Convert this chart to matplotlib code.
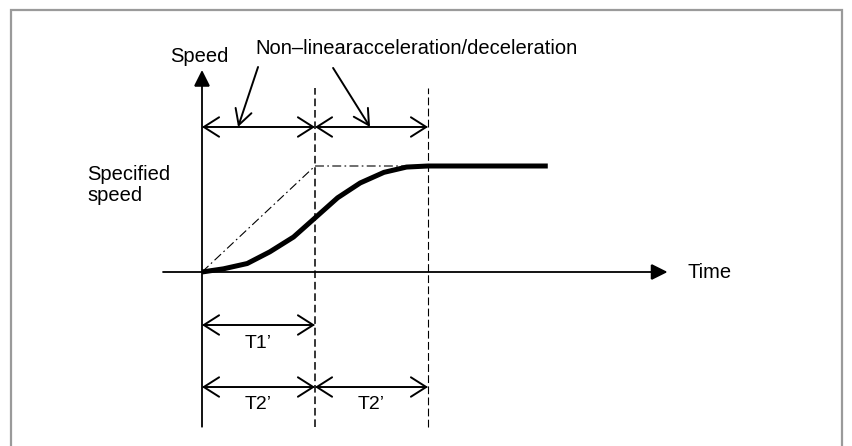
import matplotlib.pyplot as plt
from matplotlib.patches import FancyArrowPatch, Rectangle

plt.rcParams["font.family"] = ["Liberation Sans", "DejaVu Sans"]

# time in units of T2', speed in units of the specified speed
T1 = 1.0
T2 = 1.0
curve_t = [0.0, 0.19, 0.40, 0.60, 0.81, 1.0, 1.20, 1.40, 1.61, 1.81, 2.0, 3.06]
curve_v = [0.0, 0.03, 0.08, 0.19, 0.33, 0.51, 0.70, 0.84, 0.94, 0.99, 1.0, 1.0]
linear_t = [0.0, T1, 2 * T2]
linear_v = [0.0, 1.0, 1.0]

title = "Non\u2013linearacceleration/deceleration"
y_label = "Speed"
x_label = "Time"
spec_label = "Specified\nspeed"
t1_label = "T1\u2019"
t2_label = "T2\u2019"

W, H = 853, 446
fig = plt.figure(figsize=(W / 100, H / 100), dpi=100)
ax = fig.add_axes([0, 0, 1, 1])
ax.set_xlim(-202 / 113, (W - 202) / 113)
ax.set_ylim(-(H - 272) / 106, 272 / 106)
ax.axis("off")

# grey frame
fig.patches.append(Rectangle((11 / W, -0.05), (842 - 11) / W, 1.05 - 10 / H,
                             transform=fig.transFigure, fill=False,
                             edgecolor="#9a9a9a", linewidth=1.6))


def arrow(p0, p1, style, lw=1.4, ms=20):
    ax.add_patch(FancyArrowPatch(p0, p1, arrowstyle=style, mutation_scale=ms,
                                 color="black", linewidth=lw,
                                 shrinkA=0, shrinkB=0, joinstyle="miter"))


# axes
solid = "-|>,head_length=0.5,head_width=0.25"
arrow((0, -1.46), (0, 1.906), solid, lw=1.3)
arrow((-0.345, 0), (4.12, 0), solid, lw=1.3)

# dashed guides
ax.plot([T1, T1], [-1.46, 1.736], color="black", lw=1.1, dashes=(5, 2.5))
ax.plot([2 * T2, 2 * T2], [-1.46, 1.736], color="black", lw=0.8, dashes=(7, 3))

# speed curves
ax.plot(linear_t, linear_v, color="black", lw=0.8, dashes=(8, 3, 1.5, 3))
ax.plot(curve_t, curve_v, color="black", lw=3.6, solid_capstyle="butt")

# dimension arrows
dim = "<->,head_length=0.55,head_width=0.35"
arrow((0, 1.368), (T2, 1.368), dim)
arrow((T2, 1.368), (2 * T2, 1.368), dim)
arrow((0, -0.5), (T1, -0.5), dim)
arrow((0, -1.085), (T2, -1.085), dim)
arrow((T2, -1.085), (2 * T2, -1.085), dim)

# pointers from the title
ptr = "->,head_length=0.55,head_width=0.3"
arrow((0.496, 1.934), (0.319, 1.368), ptr)
arrow((1.16, 1.925), (1.487, 1.368), ptr)

fs = 14.5
ax.text(1.894, 2.113, title, ha="center", va="center", fontsize=fs)
ax.text(-0.02, 2.03, y_label, ha="center", va="center", fontsize=fs)
ax.text(4.30, 0, x_label, ha="left", va="center", fontsize=fs)
ax.text(-1.018, 0.82, spec_label, ha="left", va="center", fontsize=fs,
        linespacing=1.15)
ax.text(0.5, -0.67, t1_label, ha="center", va="center", fontsize=14)
ax.text(0.5, -1.25, t2_label, ha="center", va="center", fontsize=14)
ax.text(1.5, -1.25, t2_label, ha="center", va="center", fontsize=14)

fig.savefig("out.png", dpi=100)
